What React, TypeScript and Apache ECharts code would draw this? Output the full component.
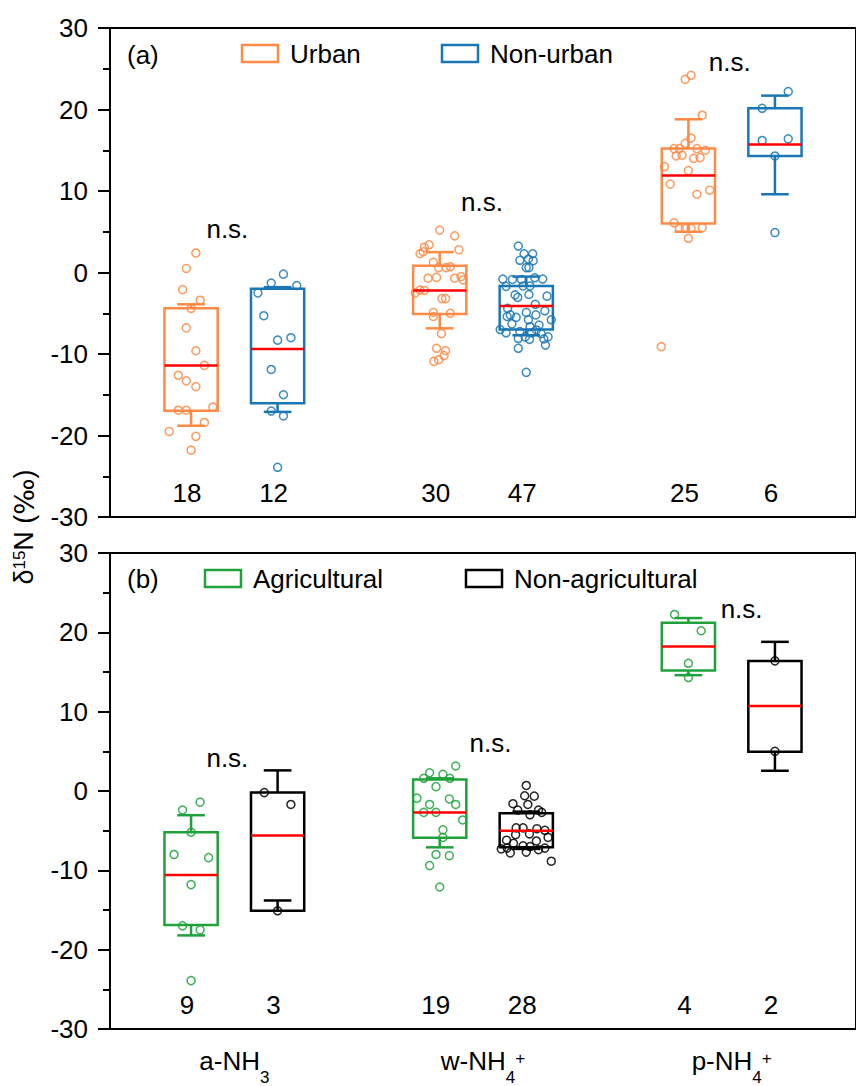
import React, { useEffect, useRef } from 'react';
import * as echarts from 'echarts';

const FONT = 'Liberation Sans, Arial, Helvetica, sans-serif';

const categories = ['a-NH3', 'w-NH4+', 'p-NH4+'];

// box stats per category: [lower whisker, Q1, median, Q3, upper whisker]
const urbanBox = [
  [-18.8, -16.95, -11.4, -4.4, -3.9],
  [-6.85, -5.1, -2.2, 0.83, 2.5],
  [5.0, 6.0, 11.9, 15.2, 18.8],
];
const nonUrbanBox = [
  [-17.1, -16.05, -9.4, -2.0, -1.8],
  [-7.7, -7.0, -4.1, -1.65, -0.5],
  [9.6, 14.3, 15.7, 20.15, 21.7],
];
const agriBox = [
  [-18.2, -16.9, -10.6, -5.2, -3.05],
  [-7.1, -5.9, -2.7, 1.45, 1.6],
  [14.6, 15.2, 18.2, 21.2, 21.8],
];
const nonAgriBox = [
  [-13.8, -15.1, -5.6, -0.2, 2.6],
  [-7.3, -7.1, -5.0, -2.8, -2.6],
  [2.55, 4.95, 10.7, 16.4, 18.8],
];

// individual observations per category: [jitter (box widths), value]
const urbanPts = [
  [[0.09, 2.4], [-0.09, 0.5], [-0.16, -2.1], [0.17, -3.4], [0, -4.4], [-0.09, -6.8], [0.09, -9.6], [0.25, -11.4], [-0.24, -12.6],
   [-0.09, -13.3], [0.09, -14.0], [-0.24, -16.9], [-0.09, -16.9], [0.41, -16.5], [0.25, -18.4], [-0.41, -19.5], [0.09, -20.1], [0, -21.8]],
  [[0, 5.2], [0.28, 4.5], [-0.2, 3.4], [-0.29, 3.1], [0.36, 2.8], [-0.37, 2.3], [-0.12, 1.25], [-0.02, 0.6], [0.12, 0.6], [0.2, 0.7],
   [-0.22, -0.7], [-0.06, -0.6], [0.28, -0.7], [0.44, -0.9], [-0.37, -2.15], [-0.46, -2.5], [-0.29, -2.2], [0.04, -3.2], [0.11, -3.2],
   [-0.12, -4.9], [0.2, -5.0], [-0.12, -5.4], [0.03, -7.5], [-0.06, -9.3], [0.11, -9.6], [0.08, -10.2], [-0.02, -10.7], [-0.11, -10.9],
   [0.4, -0.5], [-0.31, 2.55]],
  [[0.05, 24.2], [-0.06, 23.7], [0.26, 19.3], [0.05, 16.5], [-0.06, 15.85], [-0.27, 15.2], [-0.17, 15.2], [0.16, 15.2], [0.32, 15.0],
   [-0.23, 14.3], [-0.12, 14.4], [0.1, 14.0], [0.22, 14.1], [-0.45, 13.0], [0, 12.5], [-0.34, 10.85], [0.16, 9.6], [0.4, 10.1],
   [-0.27, 6.1], [-0.17, 5.4], [-0.06, 5.4], [0.05, 5.4], [0.26, 5.5], [0, 4.2], [-0.51, -9.1]],
];
const nonUrbanPts = [
  [[0.11, -0.2], [-0.12, -1.3], [0.36, -1.6], [-0.37, -2.5], [-0.26, -5.3], [0, -8.3], [0.25, -8.0], [-0.12, -11.9], [0.11, -15.0],
   [-0.12, -17.0], [0.11, -17.6], [0, -23.9]],
  [[-0.15, 3.25], [-0.04, 2.3], [0.12, 2.3], [0.04, 1.65], [-0.12, 1.5], [0.13, 1.45], [0, 0.6], [0.05, 0.6], [-0.44, -0.8],
   [-0.26, -0.85], [-0.09, -0.85], [0.16, -0.65], [0.31, -0.8], [-0.06, -1.65], [0.07, -1.65], [-0.38, -1.7], [-0.21, -2.75],
   [-0.16, -3.05], [0.05, -2.7], [0.39, -2.9], [0.17, -3.9], [-0.35, -4.4], [0, -4.9], [0.35, -4.7], [-0.19, -5.5], [-0.36, -5.4],
   [0.18, -5.2], [0.47, -5.8], [0.04, -5.8], [-0.27, -6.3], [0.07, -6.65], [0.24, -6.45], [-0.49, -7.0], [-0.38, -7.4], [-0.12, -7.25],
   [0.1, -7.4], [0.28, -7.5], [0.41, -7.9], [-0.02, -7.9], [-0.15, -8.1], [0.06, -8.2], [0.33, -8.15], [0.36, -8.9], [-0.15, -9.3],
   [0, -12.25], [-0.3, -5.2], [0.19, -7.05]],
  [[0.25, 22.2], [-0.24, 20.15], [-0.24, 16.2], [0.25, 16.4], [0, 14.3], [0, 4.9]],
];
const agriPts = [
  [[0.17, -1.4], [-0.16, -2.4], [0, -5.2], [-0.32, -8.0], [0.33, -8.4], [0, -11.8], [-0.16, -17.0], [0.17, -17.5], [0, -23.9]],
  [[0.3, 3.15], [-0.19, 2.3], [0.06, 2.1], [-0.3, 1.6], [0.19, 1.6], [-0.07, 0.55], [-0.43, -0.9], [0.18, -1.0], [-0.19, -1.7],
   [0.3, -1.7], [-0.3, -2.7], [-0.07, -2.7], [0.43, -3.65], [0.06, -4.9], [0.06, -5.85], [-0.07, -8.0], [0.18, -8.15], [-0.19, -9.4],
   [0, -12.1]],
  [[-0.26, 22.25], [0.24, 20.2], [0, 16.1], [0, 14.3]],
];
const nonAgriPts = [
  [[-0.25, -0.2], [0.25, -1.7], [0, -15.1]],
  [[0, 0.7], [-0.03, -0.6], [0.15, -0.65], [-0.25, -1.6], [0.03, -1.7], [-0.16, -2.4], [0.23, -2.4], [0.29, -2.7], [0.07, -3.0],
   [-0.19, -4.65], [-0.06, -4.65], [0.2, -4.75], [0.35, -4.95], [-0.2, -5.5], [0.06, -5.4], [0.41, -5.85], [-0.37, -6.2], [0.19, -6.3],
   [-0.24, -6.6], [-0.06, -6.9], [0.07, -7.0], [-0.47, -7.3], [-0.36, -7.2], [0.35, -7.2], [0.23, -7.4], [-0.3, -7.8], [0, -7.7],
   [0.47, -8.85]],
  [[0, 16.4], [0, 5.0]],
];

const urbanN = [18, 30, 25];
const nonUrbanN = [12, 47, 6];
const agriN = [9, 19, 4];
const nonAgriN = [3, 28, 2];

// "n.s." annotations: [category, shift (band fraction), y value]
const nsA = [[0, -0.028, 5.3], [1, -0.004, 8.65], [2, -0.008, 25.8]];
const nsB = [[0, -0.028, 4.1], [1, 0.03, 6.0], [2, 0.04, 23.0]];

const COUNT_Y = -27;

const C_URBAN = '#FF8A45';
const C_NONURBAN = '#1A77B6';
const C_AGRI = '#1FA23B';
const C_NONAGRI = '#000000';
const C_MEDIAN = '#FF0000';

const OFFSET = 0.174; // group offset, fraction of band
const BOXW = 0.214; // box width, fraction of band

function boxRender(color: string) {
  return (params: any, api: any) => {
    const cat = api.value(0);
    const side = api.value(1);
    const band = api.size([1, 0])[0];
    const cx = api.coord([cat, 0])[0] + side * OFFSET * band;
    const w = BOXW * band;
    const yLow = api.coord([cat, api.value(2)])[1];
    const yQ1 = api.coord([cat, api.value(3)])[1];
    const yMed = api.coord([cat, api.value(4)])[1];
    const yQ3 = api.coord([cat, api.value(5)])[1];
    const yHigh = api.coord([cat, api.value(6)])[1];
    const cw = w * 0.26;
    const st = { stroke: color, lineWidth: 2.5, fill: 'none' };
    return {
      type: 'group',
      children: [
        { type: 'line', shape: { x1: cx, y1: yQ3, x2: cx, y2: yHigh }, style: st },
        { type: 'line', shape: { x1: cx - cw, y1: yHigh, x2: cx + cw, y2: yHigh }, style: st },
        { type: 'line', shape: { x1: cx, y1: yQ1, x2: cx, y2: yLow }, style: st },
        { type: 'line', shape: { x1: cx - cw, y1: yLow, x2: cx + cw, y2: yLow }, style: st },
        { type: 'rect', shape: { x: cx - w / 2, y: yQ3, width: w, height: yQ1 - yQ3 }, style: st },
        { type: 'line', shape: { x1: cx - w / 2, y1: yMed, x2: cx + w / 2, y2: yMed }, style: { stroke: C_MEDIAN, lineWidth: 2.5 } },
      ],
    };
  };
}

function ptsRender(color: string) {
  return (params: any, api: any) => {
    const cat = api.value(0);
    const side = api.value(1);
    const jit = api.value(2);
    const v = api.value(3);
    const band = api.size([1, 0])[0];
    const p = api.coord([cat, v]);
    const cx = p[0] + side * OFFSET * band + jit * BOXW * band;
    return {
      type: 'circle',
      shape: { cx, cy: p[1], r: 4 },
      style: { fill: 'none', stroke: color, lineWidth: 1.5, opacity: 0.85 },
    };
  };
}

function textRender(texts: string[], shiftPx: number) {
  return (params: any, api: any) => {
    const cat = api.value(0);
    const dx = api.value(1);
    const v = api.value(2);
    const band = api.size([1, 0])[0];
    const p = api.coord([cat, v]);
    return {
      type: 'text',
      x: p[0] + dx * band + shiftPx,
      y: p[1],
      style: {
        text: texts[params.dataIndex],
        fontSize: 26,
        fontFamily: FONT,
        fill: '#000',
        align: 'center',
        verticalAlign: 'middle',
      },
    };
  };
}

function boxData(b: number[][], side: number) {
  return b.map((s, i) => [i, side, ...s]);
}
function ptsData(p: number[][][], side: number) {
  const out: number[][] = [];
  p.forEach((arr, i) => arr.forEach(([j, v]) => out.push([i, side, j, v])));
  return out;
}

function richLabel(c: string) {
  const m = c.match(/^(.*?)(\d+)(\+?)$/);
  if (!m) return c;
  return `{n|${m[1]}}{sub|${m[2]}}` + (m[3] ? `{sup|${m[3]}}` : '');
}

export default function App() {
  const ref = useRef<HTMLDivElement>(null);
  useEffect(() => {
    if (!ref.current) return;
    const chart = echarts.init(ref.current, null, { renderer: 'svg' });
    const lineStyle = { color: '#000', width: 2 };
    const mkX = (grid: number, labels: boolean) => ({
      type: 'category',
      gridIndex: grid,
      data: categories,
      boundaryGap: true,
      position: 'bottom',
      axisLine: { show: true, onZero: false, lineStyle },
      axisTick: { show: false },
      splitLine: { show: false },
      axisLabel: labels
        ? {
            show: true,
            interval: 0,
            margin: 17,
            color: '#000',
            fontFamily: FONT,
            formatter: (v: string) => richLabel(v),
            rich: {
              n: { fontSize: 26, fontFamily: FONT, color: '#000', lineHeight: 30 },
              sub: { fontSize: 17, fontFamily: FONT, color: '#000', verticalAlign: 'bottom', padding: [0, 0, -10, 0] },
              sup: { fontSize: 17, fontFamily: FONT, color: '#000', verticalAlign: 'top', lineHeight: 17, padding: [4, 0, 0, 0] },
            },
          }
        : { show: false },
    });
    const mkTop = (grid: number) => ({
      type: 'category',
      gridIndex: grid,
      data: categories,
      position: 'top',
      axisLine: { show: true, onZero: false, lineStyle },
      axisTick: { show: false },
      axisLabel: { show: false },
      splitLine: { show: false },
    });
    const mkY = (grid: number) => ({
      type: 'value',
      gridIndex: grid,
      min: -30,
      max: 30,
      interval: 10,
      axisLine: { show: true, onZero: false, lineStyle },
      axisTick: { show: true, length: 12, lineStyle: { color: '#000', width: 2 } },
      minorTick: { show: true, splitNumber: 2, length: 7, lineStyle: { color: '#000', width: 2 } },
      splitLine: { show: false },
      minorSplitLine: { show: false },
      axisLabel: { margin: 22, fontSize: 26, color: '#000', fontFamily: FONT },
    });

    const custom = (name: string, xi: number, yi: number, data: any[], render: any, z: number, y: number) => ({
      type: 'custom',
      name,
      xAxisIndex: xi,
      yAxisIndex: yi,
      data,
      renderItem: render,
      encode: { x: 0, y },
      z,
      silent: true,
    });

    const countsData = (n: number[], side: number) => n.map((_, i) => [i, side * OFFSET, COUNT_Y]);

    const legendItem = (x: number, y: number, color: string, label: string) => [
      { type: 'rect', x, y, shape: { x: 0, y: 0, width: 36, height: 17 }, style: { fill: 'none', stroke: color, lineWidth: 2.5 } },
      { type: 'text', x: x + 48, y: y + 9, style: { text: label, fontSize: 26, fontFamily: FONT, fill: '#000', align: 'left', verticalAlign: 'middle' } },
    ];

    const gridBase = { show: true, borderColor: '#000', borderWidth: 2, backgroundColor: 'transparent', left: 110, right: -11 };

    chart.setOption({
      animation: false,
      backgroundColor: '#fff',
      grid: [
        { ...gridBase, top: 28, height: 489 },
        { ...gridBase, top: 553, height: 490 },
      ],
      xAxis: [mkX(0, false), mkTop(0), mkX(1, true), mkTop(1)],
      yAxis: [mkY(0), mkY(1)],
      series: [
        custom('Urban pts', 0, 0, ptsData(urbanPts, -1), ptsRender(C_URBAN), 2, 3),
        custom('Non-urban pts', 0, 0, ptsData(nonUrbanPts, 1), ptsRender(C_NONURBAN), 2, 3),
        custom('Urban', 0, 0, boxData(urbanBox, -1), boxRender(C_URBAN), 3, 4),
        custom('Non-urban', 0, 0, boxData(nonUrbanBox, 1), boxRender(C_NONURBAN), 3, 4),
        custom('Urban n', 0, 0, countsData(urbanN, -1), textRender(urbanN.map(String), -4), 4, 2),
        custom('Non-urban n', 0, 0, countsData(nonUrbanN, 1), textRender(nonUrbanN.map(String), -4), 4, 2),
        custom('ns a', 0, 0, nsA, textRender(nsA.map(() => 'n.s.'), 0), 4, 2),
        custom('Agricultural pts', 2, 1, ptsData(agriPts, -1), ptsRender(C_AGRI), 2, 3),
        custom('Non-agricultural pts', 2, 1, ptsData(nonAgriPts, 1), ptsRender(C_NONAGRI), 2, 3),
        custom('Agricultural', 2, 1, boxData(agriBox, -1), boxRender(C_AGRI), 3, 4),
        custom('Non-agricultural', 2, 1, boxData(nonAgriBox, 1), boxRender(C_NONAGRI), 3, 4),
        custom('Agricultural n', 2, 1, countsData(agriN, -1), textRender(agriN.map(String), -4), 4, 2),
        custom('Non-agricultural n', 2, 1, countsData(nonAgriN, 1), textRender(nonAgriN.map(String), -4), 4, 2),
        custom('ns b', 2, 1, nsB, textRender(nsB.map(() => 'n.s.'), 0), 4, 2),
      ],
      graphic: [
        { type: 'line', shape: { x1: 104, y1: 28, x2: 856, y2: 28 }, style: { stroke: '#000', lineWidth: 2 }, z: 10 },
        { type: 'text', x: 127, y: 55, style: { text: '(a)', fontSize: 26, fontFamily: FONT, fill: '#000', align: 'left', verticalAlign: 'middle' } },
        ...legendItem(242, 45, C_URBAN, 'Urban'),
        ...legendItem(442, 45, C_NONURBAN, 'Non-urban'),
        { type: 'text', x: 127, y: 579, style: { text: '(b)', fontSize: 26, fontFamily: FONT, fill: '#000', align: 'left', verticalAlign: 'middle' } },
        ...legendItem(205, 570, C_AGRI, 'Agricultural'),
        ...legendItem(466, 570, C_NONAGRI, 'Non-agricultural'),
        {
          type: 'text',
          x: 24,
          y: 527,
          rotation: Math.PI / 2,
          style: {
            text: '{d|δ}{s|15}{d|N (}{p|‰}{d|)}',
            fontSize: 27,
            fontFamily: FONT,
            align: 'center',
            verticalAlign: 'middle',
            fill: '#000',
            rich: {
              d: { fontSize: 27, fontFamily: FONT, fill: '#000' },
              p: { fontSize: 27, fontFamily: 'DejaVu Sans', fill: '#000' },
              s: { fontSize: 17, fontFamily: FONT, fill: '#000', verticalAlign: 'top' },
            },
          },
        },
      ],
    });
    return () => chart.dispose();
  }, []);
  return <div ref={ref} style={{ position: 'fixed', left: 0, top: 0, width: 856, height: 1086, background: '#fff' }} />;
}
